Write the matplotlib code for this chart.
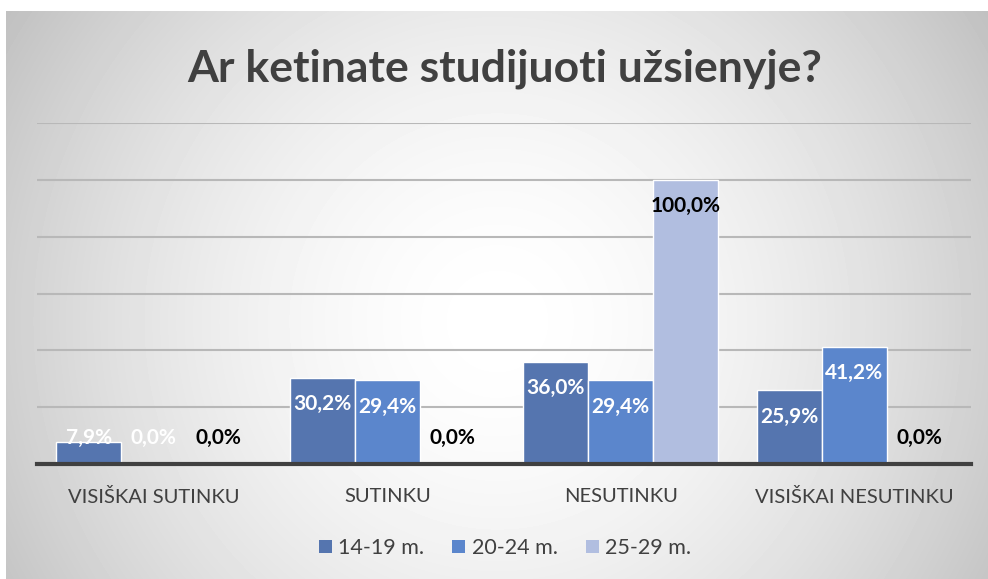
import numpy as np
import matplotlib.pyplot as plt
from matplotlib.patches import Patch

categories = ["VISIŠKAI SUTINKU", "SUTINKU", "NESUTINKU", "VISIŠKAI NESUTINKU"]
series_names = ["14-19 m.", "20-24 m.", "25-29 m."]
age_14_19 = [7.9, 30.2, 36.0, 25.9]
age_20_24 = [0.0, 29.4, 29.4, 41.2]
age_25_29 = [0.0, 0.0, 100.0, 0.0]

colors = ["#5575af", "#5b86cc", "#b1bee0"]
label_colors = ["white", "white", "black"]
text_gray = "#404040"

plt.rcParams['font.family'] = ['Lato', 'DejaVu Sans']

W, H = 988, 579
fig = plt.figure(figsize=(W / 100, H / 100), dpi=100)
fig.patch.set_facecolor("white")

# radial grey background of the chart area
bg = fig.add_axes([6 / W, 0, 1 - 6 / W, 1 - 11 / H])
yy, xx = np.mgrid[0:568, 0:982]
r = np.hypot(xx - 491, yy - 310) / 600.0
shade = 1.0 - 0.26 * np.clip(r, 0, 1) ** 1.7
bg.imshow(shade, cmap="gray", vmin=0, vmax=1, aspect="auto", interpolation="bilinear")
bg.axis("off")

ax = fig.add_axes([37 / W, (H - 464) / H, (971 - 37) / W, (464 - 123) / H])
ax.patch.set_alpha(0)

x = np.arange(len(categories))
width = 0.278
data = [age_14_19, age_20_24, age_25_29]
for i, vals in enumerate(data):
    pos = x + (i - 1) * width
    ax.bar(pos, vals, width, color=colors[i], edgecolor="white", linewidth=1, zorder=3)
    for px, v in zip(pos, vals):
        ly = max(v - 9.2, 9.2)
        ax.text(px, ly, f"{v:.1f}%".replace(".", ","), ha="center", va="center",
                fontsize=15, fontweight="bold", color=label_colors[i], zorder=4)

ax.set_xlim(-0.5, 3.5)
ax.set_ylim(0, 120)
ax.set_yticks(np.arange(20, 121, 20))
ax.yaxis.grid(True, color="#b8b8b8", linewidth=1.5, zorder=0)
ax.tick_params(axis="y", left=False, labelleft=False)
ax.tick_params(axis="x", bottom=False, labelsize=14.5, labelcolor=text_gray, pad=14)
ax.set_xticks(x)
ax.set_xticklabels(categories)
for s in ["top", "left", "right"]:
    ax.spines[s].set_visible(False)
ax.spines["bottom"].set_color(text_gray)
ax.spines["bottom"].set_linewidth(3)
ax.spines["bottom"].set_zorder(5)

fig.text(505 / W, 1 - 69 / H, "Ar ketinate studijuoti užsienyje?", ha="center", va="center",
         fontsize=32, fontweight="bold", color=text_gray)

handles = [Patch(facecolor=c, edgecolor="none") for c in colors]
fig.legend(handles, series_names, loc="center", bbox_to_anchor=(505 / W, 1 - 548 / H),
           ncol=3, frameon=False, fontsize=15.5, labelcolor=text_gray,
           handlelength=0.6, handleheight=0.6, handletextpad=0.3, columnspacing=1.3)

fig.savefig("out.png", dpi=100)
